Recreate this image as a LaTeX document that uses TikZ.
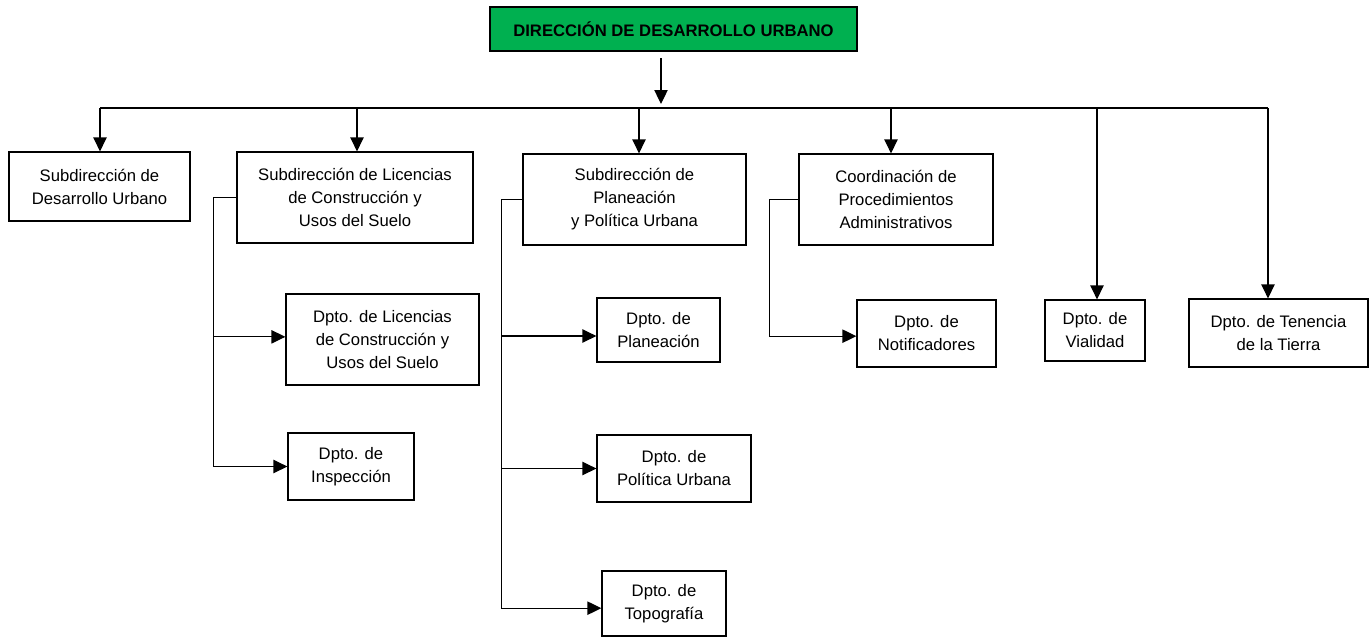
\documentclass[tikz,border=0pt]{standalone}
\usepackage{fontspec}
\setmainfont{Liberation Sans}
\usetikzlibrary{arrows.meta}
\definecolor{dirgreen}{RGB}{0,176,80}
\begin{document}
\begin{tikzpicture}[x=0.75pt,y=-0.75pt,
  box/.style={draw=black,line width=0.9pt,rectangle,fill=white,align=center,inner sep=0pt,font=\fontsize{12.5}{17.25}\selectfont},
  sz/.style 2 args={minimum width=#1*0.75pt,minimum height=#2*0.75pt},
  arr/.style={line width=0.9pt,-{Triangle[width=10pt,length=10.5pt]}},
  lin/.style={line width=0.9pt}]
\useasboundingbox (0,0) rectangle (1370,637);
\node[box,sz={367}{44},fill=dirgreen,font=\fontsize{12.5}{15}\selectfont\bfseries] (DIR) at (673.5,29) {DIRECCIÓN DE DESARROLLO URBANO};
\node[box,sz={181}{69}] (SDU) at (99.5,186.5) {Subdirección de\\Desarrollo Urbano};
\node[box,sz={236}{91}] (SLC) at (355,197.5) {Subdirección de Licencias\\de Construcción y\\Usos del Suelo};
\node[box,sz={223}{91}] (SPP) at (634.5,199.5) {Subdirección de\\Planeación\\y Política Urbana};
\node[box,sz={194}{91}] (CPA) at (896,199.5) {Coordinación de\\Procedimientos\\Administrativos};
\node[box,sz={100}{61}] (DVI) at (1095,330.5) {Dpto. de\\Vialidad};
\node[box,sz={179}{68}] (DTT) at (1278.5,333) {Dpto. de Tenencia\\de la Tierra};
\node[box,sz={193}{91}] (DLC) at (382.5,339.5) {Dpto. de Licencias\\de Construcción y\\Usos del Suelo};
\node[box,sz={126}{67}] (DIN) at (351,466.5) {Dpto. de\\Inspección};
\node[box,sz={123}{64}] (DPL) at (658.5,330) {Dpto. de\\Planeación};
\node[box,sz={154}{67}] (DPU) at (674,468.5) {Dpto. de\\Política Urbana};
\node[box,sz={124}{65}] (DTO) at (664,603.5) {Dpto. de\\Topografía};
\node[box,sz={139}{67}] (DNO) at (926.5,333.5) {Dpto. de\\Notificadores};
\coordinate (BUS) at (661,108);
\draw[arr,shorten <=5pt,shorten >=3pt] (DIR.south -| BUS) -- (BUS);
\draw[lin] (100,108) -- (1268,108);
\foreach \n/\x in {SDU/100,SLC/357,SPP/639,CPA/891,DVI/1097,DTT/1268}
  \draw[arr] (\x,108) -- (\x,108 |- \n.north);
\draw[arr] (SLC.west) -- ++(-23,0) |- ([yshift=2pt]DLC.west);
\draw[arr] (SLC.west) -- ++(-23,0) |- (DIN.west);
\draw[arr] (SPP.west) -- ++(-21,0) |- ([yshift=-4.5pt]DPL.west);
\draw[arr] (SPP.west) -- ++(-21,0) |- (DPU.west);
\draw[arr] (SPP.west) -- ++(-21,0) |- ([yshift=-3.5pt]DTO.west);
\draw[arr] (CPA.west) -- ++(-29,0) |- ([yshift=-2pt]DNO.west);
\end{tikzpicture}
\end{document}
